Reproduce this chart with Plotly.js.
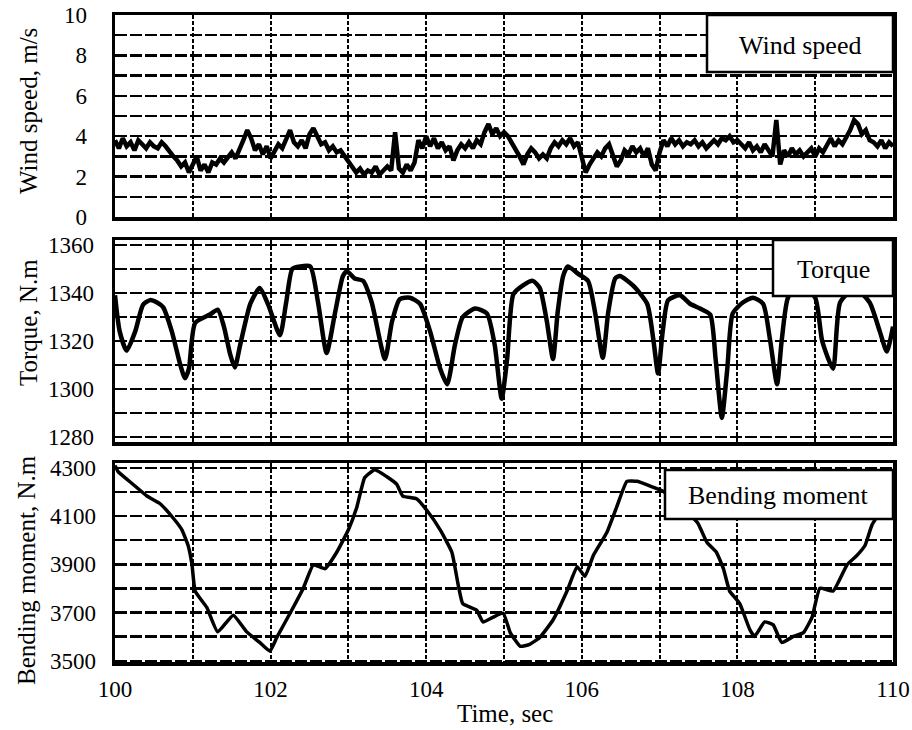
<!DOCTYPE html>
<html>
<head>
<meta charset="utf-8">
<script src="https://cdn.plot.ly/plotly-3.0.1.min.js"></script>
<style>html,body{margin:0;padding:0;background:#fff;}#chart{width:912px;height:730px;}</style>
</head>
<body>
<div id="chart"></div>
<script>
// ---------- DATA ----------
// Wind speed, m/s, sampled every 0.05 s from t = 100 s to t = 110 s
const windStart = 100;
const windStep = 0.05;
const windSpeed = [
  3.8, 3.4, 3.9, 3.5, 3.7, 3.3, 3.8, 3.6, 3.4, 3.7, 3.5,
  3.4, 3.7, 3.5, 3.2, 3.0, 2.8, 2.5, 2.7, 2.2, 2.6,
  3.0, 2.3, 2.6, 2.2, 2.7, 2.6, 2.9, 2.7, 3.0, 3.2,
  2.9, 3.3, 3.8, 4.3, 3.9, 3.3, 3.6, 3.1, 3.5, 2.9,
  3.3, 3.6, 3.4, 3.8, 4.3, 3.7, 3.5, 3.8, 3.4, 4.1,
  4.4, 4.0, 3.6, 3.7, 3.3, 3.5, 3.2, 3.3, 3.0, 2.8,
  2.5, 2.2, 2.4, 2.1, 2.3, 2.2, 2.5, 2.1, 2.3, 2.5,
  2.3, 4.2, 2.4, 2.2, 2.6, 2.3, 2.7, 3.8, 3.4, 4.0,
  3.5, 3.9, 3.4, 3.7, 3.3, 3.5, 2.8, 3.3, 3.6, 3.4,
  3.7, 3.4, 3.8, 3.6, 4.2, 4.6, 4.1, 4.4, 4.0, 4.2,
  4.0, 3.7, 3.4, 3.0, 2.6, 3.1, 3.4, 3.2, 2.9, 3.1,
  2.9, 3.4, 3.7, 3.5, 3.8, 3.6, 3.9, 3.5, 3.7, 2.9,
  2.2, 2.6, 2.9, 3.2, 3.0, 3.4, 3.6, 3.1, 2.5, 2.8,
  3.3, 3.1, 3.5, 3.2, 3.4, 3.0, 3.4, 2.6, 2.3, 3.2,
  3.8, 3.5, 3.9, 3.6, 3.8, 3.5, 3.7, 3.6, 3.8, 3.5,
  3.7, 3.4, 3.6, 3.8, 3.6, 3.9, 3.8, 4.0, 3.7, 3.8,
  3.6, 3.4, 3.7, 3.3, 3.5, 3.2, 3.6, 3.3, 3.0, 4.8,
  2.6, 3.3, 3.0, 3.4, 3.1, 3.3, 3.0, 3.2, 3.4, 3.0,
  3.4, 3.2, 3.6, 3.9, 3.5, 3.8, 3.6, 3.9, 4.3, 4.8,
  4.6, 4.1, 4.3, 3.8, 3.7, 3.5, 3.8, 3.4, 3.7, 3.5
];

// Torque, N.m
const torqueTime = [
  100.00,100.06,100.15,100.26,100.36,100.45,100.54,100.62,100.73,100.84,100.90,100.95,
  101.03,101.22,101.32,101.40,101.48,101.54,101.61,101.74,101.86,101.97,
  102.12,102.20,102.28,102.38,102.51,102.61,102.72,102.83,102.93,102.98,
  103.08,103.19,103.30,103.47,103.56,103.66,103.79,103.92,
  104.05,104.18,104.27,104.37,104.47,104.63,104.78,104.88,104.97,
  105.04,105.12,105.24,105.37,105.46,105.55,105.63,105.69,105.76,105.82,105.95,
  106.08,106.17,106.27,106.34,106.43,106.49,106.66,106.84,106.92,106.98,
  107.04,107.11,107.26,107.39,107.52,107.65,107.72,107.80,107.87,107.94,
  108.07,108.20,108.33,108.42,108.51,108.57,108.65,108.80,
  109.00,109.09,109.23,109.32,109.51,109.70,109.83,109.92,110.00
];
const torque = [
  1339,1324,1316,1324,1335,1337,1336,1334,1324,1310,1304.5,1308.5,
  1327.5,1331,1333,1326,1314.5,1309,1318.5,1335.5,1342,1335,
  1322.4,1336,1350,1351,1351,1336,1315,1332,1347,1349,
  1346,1345,1336,1312.5,1328,1337.4,1338,1335.5,
  1324,1308.5,1302,1318.5,1330,1333.5,1331.5,1318.5,1296,
  1312.5,1339.4,1343,1345,1342,1328.3,1312.5,1332,1347,1351,1348,
  1345,1332,1313,1332,1346,1347,1343,1335.5,1320.5,1306.5,
  1324,1337,1339,1335.5,1333.5,1331,1312.5,1288,1308.5,1331.5,
  1336,1338,1335.5,1320.4,1302,1320.4,1338,1344,
  1338,1320,1308.5,1336,1342,1336,1324,1315.6,1326
];

// Bending moment, N.m
const bendTime = [
  100.00,100.04,100.23,100.41,100.58,100.75,100.86,100.94,100.99,
  101.03,101.18,101.32,101.52,101.69,101.86,101.99,
  102.08,102.25,102.42,102.55,102.70,102.85,
  103.00,103.11,103.21,103.34,103.49,103.62,103.70,103.88,
  104.01,104.18,104.33,104.41,104.47,104.65,104.73,104.86,104.99,
  105.08,105.21,105.33,105.46,105.63,105.81,105.94,
  106.04,106.15,106.32,106.45,106.58,106.71,106.88,
  107.04,107.25,107.49,107.61,107.73,107.82,107.90,
  108.03,108.16,108.22,108.35,108.46,108.57,108.72,108.85,108.96,
  109.06,109.23,109.41,109.54,109.64,109.73,110.00
];
const bending = [
  4310,4284,4232,4183,4151,4091,4043,3978,3898,
  3789,3721,3620,3689,3621,3576,3540,
  3597,3697,3801,3898,3882,3950,
  4043,4139,4260,4292,4264,4232,4183,4171,
  4123,4043,3950,3817,3737,3709,3661,3681,3697,
  3617,3560,3568,3597,3669,3789,3890,
  3850,3938,4031,4139,4244,4244,4224,
  4204,4150,4071,3990,3950,3882,3789,
  3737,3629,3601,3661,3649,3576,3601,3617,3681,
  3801,3789,3898,3938,3978,4063,4200
];

const xTickVals = [100, 102, 104, 106, 108, 110];
const windTickVals = [0, 2, 4, 6, 8, 10];
const torqueTickVals = [1280, 1300, 1320, 1340, 1360];
const bendTickVals = [3500, 3700, 3900, 4100, 4300];

const panelLabels = ['Wind speed', 'Torque', 'Bending moment'];
const yTitles = ['Wind speed, m/s', 'Torque, N.m', 'Bending moment, N.m'];
const xTitle = 'Time, sec';

// ---------- STYLE ----------
const FONT = 'Liberation Serif, Times New Roman, serif';
const tickFont = {family: FONT, size: 23, color: '#000'};
const textFont = {family: FONT, size: 26, color: '#000'};

const windTime = windSpeed.map((_, i) => +(windStart + i * windStep).toFixed(2));

const traces = [
  {x: windTime, y: windSpeed, xaxis: 'x', yaxis: 'y', mode: 'lines',
   line: {color: '#000', width: 4.5}, hoverinfo: 'skip'},
  {x: torqueTime, y: torque, xaxis: 'x2', yaxis: 'y2', mode: 'lines',
   line: {color: '#000', width: 4.5, shape: 'spline', smoothing: 0.6}, hoverinfo: 'skip'},
  {x: bendTime, y: bending, xaxis: 'x3', yaxis: 'y3', mode: 'lines',
   line: {color: '#000', width: 3.5, shape: 'spline', smoothing: 0.4}, hoverinfo: 'skip'}
];

const XD = [115 / 912, 893 / 912];
function py(p) { return 1 - p / 730; }

function xAxis(showLabels, anchor) {
  return {
    domain: XD, anchor: anchor, range: [100, 110],
    tickvals: xTickVals, showticklabels: showLabels,
    ticks: 'outside', ticklen: 4, tickcolor: 'rgba(0,0,0,0)',
    tickfont: tickFont,
    showgrid: true, gridcolor: '#000', gridwidth: 2, griddash: '4px,2px',
    minor: {dtick: 1, showgrid: true, gridcolor: '#000', gridwidth: 2, griddash: '4px,2px'},
    showline: true, linecolor: '#000', linewidth: 3.5, mirror: true,
    zeroline: false, automargin: false, fixedrange: true
  };
}
function yAxis(domain, range, vals, minorStep, tlen) {
  return {
    domain: domain, range: range, tickvals: vals,
    ticks: 'outside', ticklen: tlen, tickcolor: 'rgba(0,0,0,0)',
    tickfont: tickFont,
    showgrid: true, gridcolor: '#000', gridwidth: 2.5, griddash: '12px,3px',
    minor: {dtick: minorStep, showgrid: true, gridcolor: '#000', gridwidth: 2.5, griddash: '12px,3px'},
    showline: true, linecolor: '#000', linewidth: 3.5, mirror: true,
    zeroline: false, automargin: false, fixedrange: true
  };
}

const boxes = [
  {x0: 707, x1: 893, y0: 15, y1: 72},
  {x0: 773, x1: 893, y0: 240, y1: 296},
  {x0: 665, x1: 893, y0: 470, y1: 519}
];
const boxText = [[800, 46], [833, 270], [778, 495]];

const shapes = boxes.map(b => ({
  type: 'rect', xref: 'paper', yref: 'paper', layer: 'above',
  x0: b.x0 / 912, x1: b.x1 / 912, y0: py(b.y1), y1: py(b.y0),
  fillcolor: '#fff', line: {color: '#000', width: 2.5}
}));

const annotations = panelLabels.map((t, i) => ({
  text: t, xref: 'paper', yref: 'paper',
  x: boxText[i][0] / 912, y: py(boxText[i][1]),
  xanchor: 'center', yanchor: 'middle', showarrow: false, font: textFont
}));
const yTitlePos = [[29, 111], [28, 323], [26, 570]];
yTitles.forEach((t, i) => annotations.push({
  text: t, xref: 'paper', yref: 'paper', textangle: -90,
  x: yTitlePos[i][0] / 912, y: py(yTitlePos[i][1]),
  xanchor: 'center', yanchor: 'middle', showarrow: false,
  font: {family: FONT, size: 25, color: '#000'}
}));
annotations.push({
  text: xTitle, xref: 'paper', yref: 'paper', x: 505 / 912, y: py(713),
  xanchor: 'center', yanchor: 'middle', showarrow: false,
  font: {family: FONT, size: 25, color: '#000'}
});

const layout = {
  width: 912, height: 730,
  margin: {l: 0, r: 0, t: 0, b: 0, pad: 0},
  paper_bgcolor: '#fff', plot_bgcolor: '#fff',
  showlegend: false,
  xaxis: xAxis(false, 'y'),
  xaxis2: Object.assign(xAxis(false, 'y2'), {matches: 'x'}),
  xaxis3: Object.assign(xAxis(true, 'y3'), {matches: 'x'}),
  yaxis: yAxis([py(217), py(15)], [0, 10], windTickVals, 1, 20),
  yaxis2: yAxis([py(442), py(240)], [1278, 1362], torqueTickVals, 10, 13),
  yaxis3: yAxis([py(662), py(463)], [3495, 4320], bendTickVals, 100, 11),
  shapes: shapes,
  annotations: annotations
};

Plotly.newPlot('chart', traces, layout, {staticPlot: true, displayModeBar: false});
</script>
</body>
</html>
